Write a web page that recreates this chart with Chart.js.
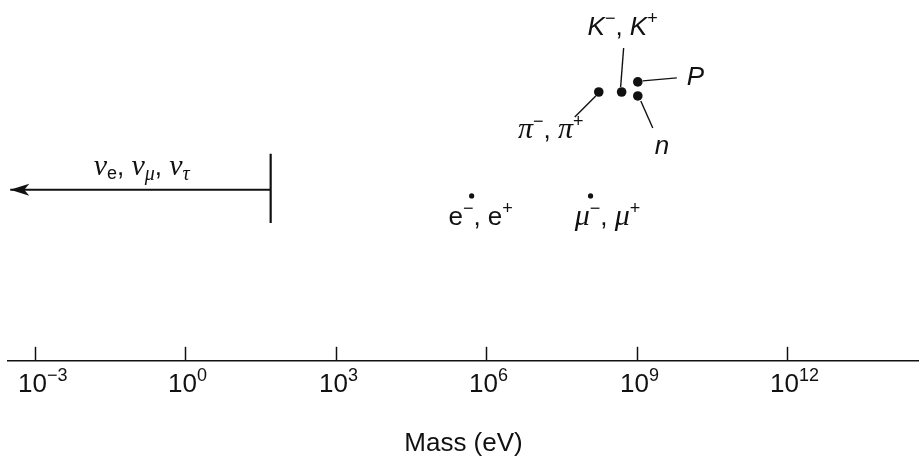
<!DOCTYPE html>
<html>
<head>
    <script src="https://cdn.jsdelivr.net/npm/chart.js"></script>
    <style>
        html, body { margin: 0; background: #fff; }
        #wrap { width: 919px; height: 459px; }
    </style>
</head>
<body>
    <div id="wrap">
        <canvas id="massChart"></canvas>
    </div>

    <script>
        // particle masses in eV
        const particles = ['e', 'mu', 'pi', 'K', 'P', 'n'];
        const massEV = [5.1e5, 1.2e8, 1.75e8, 5.0e8, 1.05e9, 1.05e9];
        // vertical placement in the diagram (arbitrary units, 0 = axis)
        const level = [4.57, 4.57, 7.45, 7.45, 7.73, 7.34];

        // neutrino upper limit and arrow
        const nuLimit = 50;
        const nuArrowEnd = 3.2e-4;
        const nuLevel = 4.74;
        const nuBar = [3.82, 5.74];

        const tickValues = [1e-3, 1e0, 1e3, 1e6, 1e9, 1e12];
        const tickExps = ['\u22123', '0', '3', '6', '9', '12'];
        const xRange = [Math.pow(10, -3.54), Math.pow(10, 14.63)];

        // rich labels: [text, style]
        const particleLabels = [
            [['e', 'n'], ['\u2212', 'sup'], [', ', 'n'], ['e', 'n'], ['+', 'sup']],
            [['\u03bc', 'g'], ['\u2212', 'sup'], [', ', 'n'], ['\u03bc', 'g'], ['+', 'sup']],
            [['\u03c0', 'g'], ['\u2212', 'sup'], [', ', 'n'], ['\u03c0', 'g'], ['+', 'sup']],
            [['K', 'i'], ['\u2212', 'sup'], [', ', 'n'], ['K', 'i'], ['+', 'sup']],
            [['P', 'i']],
            [['n', 'i']]
        ];
        const nuLabel = [['\u03bd', 'g'], ['e', 'sub'], [', ', 'n'], ['\u03bd', 'g'], ['\u03bc', 'gsub'],
                         [', ', 'n'], ['\u03bd', 'g'], ['\u03c4', 'gsub']];

        // label placement relative to each dot (pixels): text anchor + optional leader line
        const labelLayout = [
            { dx: 9, dy: 29, align: 'center' },
            { dx: 17, dy: 29, align: 'center' },
            { dx: -48, dy: 46, align: 'center', lead: [-3, 4, -24, 25] },
            { dx: 1, dy: -57, align: 'center', lead: [2, -44, -1, -5] },
            { dx: 49, dy: 3, align: 'left', lead: [5, -1, 39, -4] },
            { dx: 17, dy: 58, align: 'left', lead: [3, 5, 15, 32] }
        ];

        const ink = '#111';
        const styles = {
            n:    { font: '26px "Liberation Sans"', dy: 0 },
            i:    { font: 'italic 26px "Liberation Sans"', dy: 0 },
            g:    { font: 'italic 30px "Liberation Serif"', dy: 0 },
            sup:  { font: '18px "Liberation Sans"', dy: -11 },
            sub:  { font: '18px "Liberation Sans"', dy: 4 },
            gsub: { font: 'italic 20px "Liberation Serif"', dy: 5 },
            tick: { font: '26px "Liberation Sans"', dy: 0 },
            texp: { font: '18px "Liberation Sans"', dy: -11 }
        };

        function measureRich(ctx, segs) {
            return segs.map(([t, k]) => {
                ctx.font = styles[k].font;
                return { t, st: styles[k], m: ctx.measureText(t).width };
            });
        }

        function drawRich(ctx, segs, x, y, align) {
            const parts = measureRich(ctx, segs);
            const w = parts.reduce((a, p) => a + p.m, 0);
            let cx = align === 'left' ? x : x - w / 2;
            parts.forEach(p => {
                ctx.font = p.st.font;
                ctx.fillText(p.t, cx, y + p.st.dy);
                cx += p.m;
            });
        }

        const decor = {
            id: 'decor',
            afterDatasetsDraw(chart) {
                const ctx = chart.ctx;
                const xs = chart.scales.x, ys = chart.scales.y;
                ctx.save();
                ctx.strokeStyle = ink;
                ctx.fillStyle = ink;
                ctx.textAlign = 'left';
                ctx.textBaseline = 'alphabetic';

                // tick marks pointing up, with 10^n labels ("10" sits just left of the tick)
                ctx.lineWidth = 1.5;
                tickValues.forEach((v, i) => {
                    const px = Math.round(xs.getPixelForValue(v)) + 0.5;
                    ctx.beginPath();
                    ctx.moveTo(px, xs.top);
                    ctx.lineTo(px, xs.top - 14);
                    ctx.stroke();
                    ctx.font = styles.tick.font;
                    const w10 = ctx.measureText('10').width;
                    drawRich(ctx, [['10', 'tick'], [tickExps[i], 'texp']], px - 3 - w10 / 2, xs.top + 31, 'left');
                });

                // arrow head on the neutrino line
                const ax = xs.getPixelForValue(nuArrowEnd), ay = ys.getPixelForValue(nuLevel);
                ctx.beginPath();
                ctx.moveTo(ax, ay);
                ctx.lineTo(ax + 19, ay - 6);
                ctx.lineTo(ax + 14, ay);
                ctx.lineTo(ax + 19, ay + 6);
                ctx.closePath();
                ctx.fill();

                const bx = xs.getPixelForValue(nuLimit);
                drawRich(ctx, nuLabel, bx - 129, ay - 15, 'center');

                // particle labels and leader lines
                ctx.lineWidth = 1.4;
                massEV.forEach((m, i) => {
                    const px = xs.getPixelForValue(m), py = ys.getPixelForValue(level[i]);
                    const L = labelLayout[i];
                    if (L.lead) {
                        ctx.beginPath();
                        ctx.moveTo(px + L.lead[0], py + L.lead[1]);
                        ctx.lineTo(px + L.lead[2], py + L.lead[3]);
                        ctx.stroke();
                    }
                    drawRich(ctx, particleLabels[i], px + L.dx, py + L.dy, L.align);
                });
                ctx.restore();
            }
        };

        new Chart(document.getElementById('massChart'), {
            type: 'scatter',
            data: {
                datasets: [
                    {
                        label: 'particles',
                        data: massEV.map((m, i) => ({ x: m, y: level[i] })),
                        pointRadius: ctx => ctx.dataIndex < 2 ? 2.6 : 4.8,
                        backgroundColor: ink,
                        borderWidth: 0
                    },
                    {
                        label: 'neutrino limit',
                        data: [{ x: nuLimit, y: nuLevel }, { x: nuArrowEnd, y: nuLevel }],
                        showLine: true,
                        borderColor: ink,
                        borderWidth: 2,
                        pointRadius: 0
                    },
                    {
                        label: 'neutrino bar',
                        data: [{ x: nuLimit, y: nuBar[0] }, { x: nuLimit, y: nuBar[1] }],
                        showLine: true,
                        borderColor: ink,
                        borderWidth: 2.2,
                        pointRadius: 0
                    }
                ]
            },
            options: {
                responsive: true,
                maintainAspectRatio: false,
                animation: false,
                layout: { autoPadding: false, padding: { left: 8, right: 0, top: 0, bottom: 0 } },
                plugins: {
                    legend: { display: false },
                    tooltip: { enabled: false }
                },
                scales: {
                    x: {
                        type: 'logarithmic',
                        min: xRange[0],
                        max: xRange[1],
                        afterBuildTicks: s => { s.ticks = tickValues.map(v => ({ value: v })); },
                        ticks: { display: false },
                        grid: { display: true, drawOnChartArea: false, drawTicks: false, color: ink },
                        border: { display: true, color: ink, width: 1.5 },
                        title: {
                            display: true,
                            text: 'Mass (eV)',
                            color: ink,
                            font: { family: 'Liberation Sans', size: 26 },
                            padding: { top: 67, bottom: 0 }
                        }
                    },
                    y: {
                        display: false,
                        min: 0,
                        max: 10
                    }
                }
            },
            plugins: [decor]
        });
    </script>
</body>
</html>
